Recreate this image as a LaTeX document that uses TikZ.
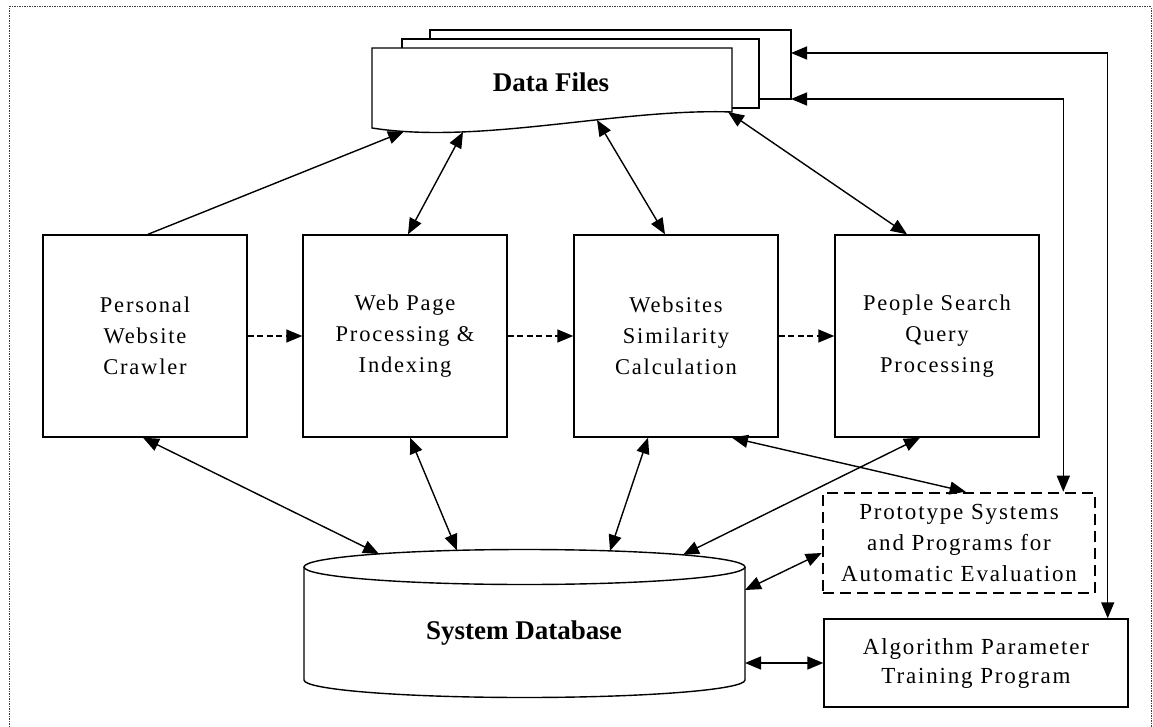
\documentclass[tikz,border=0pt]{standalone}
\usepackage{fontspec}
\setmainfont{Liberation Serif}
\newfontfamily\spacedfont{Liberation Serif}[LetterSpace=8]
\usetikzlibrary{arrows.meta,calc}

\begin{document}
\begin{tikzpicture}[x=1pt,y=-1pt,
  line width=1.4pt,
  >={Triangle[length=16pt,width=13pt]},
  frame/.style={line width=1pt,black!75,dash pattern=on 1.5pt off 1pt},
  proc/.style={draw,minimum width=204pt,minimum height=202pt,inner sep=0pt,
    align=center,font=\spacedfont\fontsize{22.5}{31}\selectfont},
  title/.style={inner sep=0pt,font=\bfseries\fontsize{27}{32}\selectfont},
  flow/.style={->,dash pattern=on 6pt off 3.5pt},
  link/.style={<->},
]
\useasboundingbox (0,0) rectangle (1153,727);

% outer dotted frame
\draw[frame] (9,727) -- (9,7) -- (1151,7) -- (1151,727);

% stacked data files
\draw (430,39) -- (430,30) -- (791,30) -- (791,99) -- (759,99);
\draw[fill=white] (402,48) -- (402,39) -- (759,39) -- (759,108) -- (732,108);
\draw[fill=white] (372,128) -- (372,48) -- (732,48) -- (732,112)
  .. controls (620,108) and (480,145) .. (372,128) -- cycle;
\node[title] (df) at (551,82) {Data Files};
\coordinate (dfA) at (404,131.5);
\coordinate (dfB) at (463,132);
\coordinate (dfC) at (597,120);
\coordinate (dfD) at (728,112);
\coordinate (dfR1) at (791,53);
\coordinate (dfR2) at (791,99);

% processing stages
\node[proc] (b1) at (145,336) {Personal\\Website\\Crawler};
\node[proc] (b2) at (405,336) {Web Page\\Processing \&\\Indexing};
\node[proc] (b3) at (676,336) {Websites\\Similarity\\Calculation};
\node[proc] (b4) at (937,336) {People Search\\Query\\Processing};

% evaluation and training
\node[draw,line width=2.6pt,dash pattern=on 11pt off 6pt,minimum width=272pt,
  minimum height=100pt,inner sep=0pt,align=center,
  font=\spacedfont\fontsize{23}{31}\selectfont] (proto) at (959,543)
  {Prototype Systems\\and Programs for\\Automatic Evaluation};
\node[draw,minimum width=304pt,minimum height=88pt,inner sep=0pt,align=center,
  font=\spacedfont\fontsize{23}{29}\selectfont] (alg) at (976,663)
  {Algorithm Parameter\\Training Program};

% system database cylinder
\draw[fill=white] (304,567) -- (304,680)
  arc[start angle=180,end angle=0,x radius=220.5,y radius=17.5] -- (745,567);
\draw (524.5,567) ellipse[x radius=220.5,y radius=17.5];
\node[title] (db) at (524,633) {System Database};
\coordinate (dbA) at (379,554);
\coordinate (dbB) at (457,550.3);
\coordinate (dbC) at (610,550.9);
\coordinate (dbD) at (683,554.8);
\coordinate (dbE) at (745,590);
\coordinate (dbF) at (745,663);

% data flow between stages
\draw[flow] (b1.east) -- (b2.west);
\draw[flow] (b2.east) -- (b3.west);
\draw[flow] (b3.east) -- (b4.west);

% data files links
\draw[->] ($(b1.north)+(3,0)$) -- (dfA);
\draw[link] (dfB) -- ($(b2.north)+(3,0)$);
\draw[link] (dfC) -- ($(b3.north)+(-11,0)$);
\draw[link] (dfD) -- ($(b4.north)+(-30,0)$);
\draw[link] (dfR1) -| ($(alg.north east)+(-21,0)$);
\draw[link] (dfR2) -| ($(proto.north east)+(-33,0)$);

% database links
\draw[link] ($(b1.south)+(-2,0)$) -- (dbA);
\draw[link] ($(b2.south)+(5,0)$) -- (dbB);
\draw[link] ($(b3.south)+(-28,0)$) -- (dbC);
\draw[link] ($(b4.south)+(-17,0)$) -- (dbD);
\draw[link] ($(b3.south)+(56,0)$) -- ($(proto.north west)+(144,0)$);
\draw[link] (dbE) -- ($(proto.west)+(0,10)$);
\draw[link] (dbF) -- (alg.west);
\end{tikzpicture}
\end{document}
